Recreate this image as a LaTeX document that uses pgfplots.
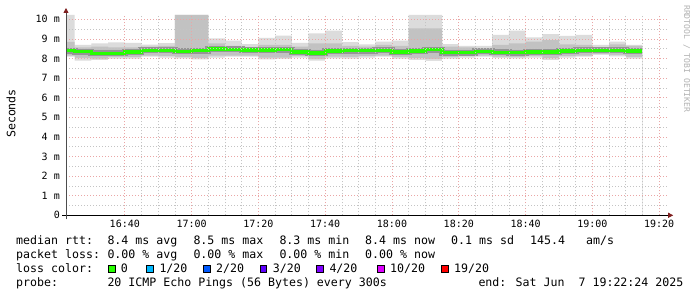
\documentclass[border=0pt]{standalone}
\usepackage{pgfplots}
\pgfplotsset{compat=1.18}
\usepackage{pgfplotstable}
\usetikzlibrary{arrows.meta}
\usepackage{fontspec}
\setmainfont{DejaVu Sans}
\newfontfamily\mono{DejaVu Sans Mono}
\definecolor{smokeA}{HTML}{DCDCDC}
\definecolor{smokeB}{HTML}{C2C2C2}
\definecolor{smokeC}{HTML}{959595}
\definecolor{medgreen}{HTML}{26FF00}
\definecolor{gridc}{HTML}{C4C4C4}
\definecolor{mgridc}{HTML}{EAA6A6}
\definecolor{arrowc}{HTML}{7F1F1F}
\definecolor{lossA}{HTML}{26FF00}
\definecolor{lossB}{HTML}{00B8FF}
\definecolor{lossC}{HTML}{0059FF}
\definecolor{lossD}{HTML}{5E00FF}
\definecolor{lossE}{HTML}{7E00FF}
\definecolor{lossF}{HTML}{DD00FF}
\definecolor{lossG}{HTML}{FF0000}

\pgfplotstableread{
t     T     Um    M     Lm    B
22.4  10.22 8.85  8.40  8.15  8.09
25    8.69  8.57  8.35  8.03  7.89
30    8.77  8.60  8.26  8.00  7.92
35    8.82  8.57  8.27  8.08  8.00
40    8.80  8.57  8.33  8.07  8.00
45    8.71  8.60  8.41  8.15  8.09
50    8.79  8.65  8.41  8.12  8.05
55    10.22 10.22 8.37  8.08  8.01
60    10.22 10.22 8.40  8.03  7.95
65    9.03  8.77  8.48  8.15  8.05
70    8.91  8.64  8.46  8.15  8.09
75    8.74  8.57  8.44  8.15  8.10
80    9.05  8.69  8.44  8.05  7.96
85    9.17  8.69  8.45  8.05  7.98
90    8.80  8.60  8.33  8.12  8.05
95    9.28  8.77  8.28  7.98  7.89
100   9.42  8.77  8.39  8.10  8.01
105   8.84  8.64  8.40  8.08  8.00
110   8.72  8.60  8.40  8.12  8.05
115   8.86  8.69  8.41  8.15  8.09
120   8.91  8.64  8.33  8.08  8.00
125   10.22 9.54  8.38  8.02  7.92
130   10.22 9.54  8.45  7.98  7.88
135   8.74  8.60  8.30  8.08  8.00
140   8.64  8.57  8.30  8.12  8.05
145   8.64  8.52  8.37  8.15  8.09
150   9.20  8.69  8.32  8.10  8.03
155   9.42  8.77  8.30  8.08  8.01
160   9.08  8.86  8.33  8.12  8.05
165   9.25  8.94  8.33  8.02  7.92
170   9.15  8.72  8.39  8.12  8.05
175   9.20  8.69  8.42  8.15  8.09
180   8.69  8.57  8.41  8.22  8.18
185   8.86  8.72  8.41  8.18  8.11
190   8.69  8.64  8.39  8.08  8.00
195   8.69  8.64  8.39  8.08  8.00
}\smoke

\begin{document}
\begin{tikzpicture}[x=1pt,y=1pt]
\useasboundingbox[fill=white] (0,0) rectangle (697,297);
\begin{axis}[
  at={(66pt,81.7pt)}, anchor=south west,
  scale only axis, width=601.2pt, height=200.3pt,
  xmin=22.4, xmax=202.4, ymin=0, ymax=10.22,
  xtick={40,60,80,100,120,140,160,180,200},
  xticklabels={16:40,17:00,17:20,17:40,18:00,18:20,18:40,19:00,19:20},
  minor x tick num=3,
  ytick={0,1,2,3,4,5,6,7,8,9,10},
  yticklabels={0,1 m,2 m,3 m,4 m,5 m,6 m,7 m,8 m,9 m,10 m},
  minor y tick num=1,
  grid=both,
  axis on top,
  major grid style={dash pattern=on 1pt off 2pt, color=mgridc, line width=0.6pt},
  minor grid style={dash pattern=on 1pt off 2pt, color=gridc, line width=0.6pt},
  major tick length=0pt, minor tick length=0pt,
  axis x line=bottom, axis y line=left,
  x axis line style={-{Triangle[length=5pt,width=5pt,color=arrowc]}, shorten >=-6pt, shorten <=-4pt, draw=black, line width=0.8pt},
  y axis line style={-{Triangle[length=5pt,width=5pt,color=arrowc]}, shorten >=-7pt, shorten <=-4pt, draw=black!70, line width=0.8pt},
  tick label style={font=\mono\fontsize{10}{12}\selectfont, text=black},
  xticklabel style={anchor=north, inner sep=0pt, yshift=-4.5pt},
  yticklabel style={anchor=east, inner sep=0pt, xshift=-6pt},
]
\addplot[const plot, fill=smokeA, draw=none] table[x=t,y=T]{\smoke} \closedcycle;
\addplot[const plot, fill=smokeB, draw=none] table[x=t,y=Um]{\smoke} \closedcycle;
\addplot[const plot, fill=smokeA, draw=none] table[x=t,y=Lm]{\smoke} \closedcycle;
\addplot[const plot, fill=white, draw=none] table[x=t,y=B]{\smoke} \closedcycle;
\addplot[const plot, draw=smokeC, line width=6pt, line join=miter, line cap=butt] table[x=t,y=M]{\smoke};
\addplot[const plot, draw=medgreen, line width=3.3pt, line join=miter, line cap=butt] table[x=t,y=M]{\smoke};
\end{axis}
% axis title and watermark
\node[rotate=90, anchor=base, inner sep=0, font=\mono\fontsize{11.6}{14}\selectfont] at (15.5,183.5) {Seconds};
\node[rotate=-90, anchor=base west, inner sep=0, text=black!30, font=\mono\fontsize{8.1}{10}\selectfont] at (684,292) {RRDTOOL / TOBI OETIKER};
% legend text
\begin{scope}[every node/.style={anchor=base west, inner sep=0, font=\mono\fontsize{11.6}{14}\selectfont}]
\node at (16,52.7) {median rtt:};
\node at (107.3,52.7) {8.4 ms avg};
\node at (193.3,52.7) {8.5 ms max};
\node at (279.3,52.7) {8.3 ms min};
\node at (365,52.7) {8.4 ms now};
\node at (451,52.7) {0.1 ms sd};
\node at (530,52.7) {145.4};
\node at (586,52.7) {am/s};
\node at (16,38.7) {packet loss:};
\node at (107.3,38.7) {0.00 \% avg};
\node at (193.3,38.7) {0.00 \% max};
\node at (279.3,38.7) {0.00 \% min};
\node at (365,38.7) {0.00 \% now};
\node at (16,24.7) {loss color:};
\node at (120.7,24.7) {0};
\node at (159.3,24.7) {1/20};
\node at (216,24.7) {2/20};
\node at (272.7,24.7) {3/20};
\node at (329.3,24.7) {4/20};
\node at (390,24.7) {10/20};
\node at (454,24.7) {19/20};
\node at (16,10.7) {probe:};
\node at (107.3,10.7) {20 ICMP Echo Pings (56 Bytes) every 300s};
\node at (478.3,10.7) {end: Sat Jun\ \ 7 19:22:24 2025};
\end{scope}
\foreach \xx/\cc in {108.3/lossA,146.7/lossB,203.3/lossC,260/lossD,316.7/lossE,377.7/lossF,441.7/lossG}
  \draw[fill=\cc, draw=black, line width=0.6pt] (\xx,24.9) rectangle ++(6.6,6.4);
\end{tikzpicture}
\end{document}
